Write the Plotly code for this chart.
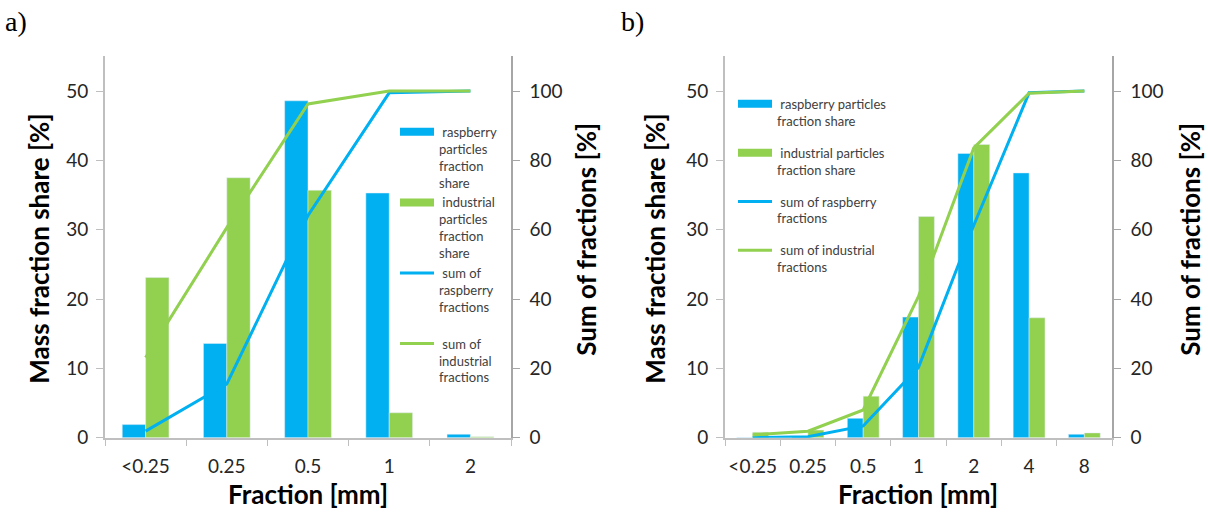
import plotly.graph_objects as go

# ---------------- data ----------------
cats_a = ["<0.25", "0.25", "0.5", "1", "2"]
rasp_share_a = [1.9, 13.6, 48.6, 35.3, 0.5]
ind_share_a = [23.1, 37.5, 35.7, 3.6, 0.15]
rasp_sum_a = [1.9, 15.5, 64.1, 99.5, 100]
ind_sum_a = [23.1, 60.6, 96.3, 100, 100]

cats_b = ["<0.25", "0.25", "0.5", "1", "2", "4", "8"]
rasp_share_b = [0.05, 0.1, 2.8, 17.4, 41.0, 38.2, 0.5]
ind_share_b = [0.8, 1.1, 6.0, 31.9, 42.3, 17.3, 0.7]
rasp_sum_b = [0.05, 0.3, 3.4, 20.3, 61.3, 99.5, 100]
ind_sum_b = [0.8, 1.9, 8.0, 40.8, 83.6, 99.4, 100]

y_ticks = [0, 10, 20, 30, 40, 50]
y2_ticks = [0, 20, 40, 60, 80, 100]

BLUE = "#00B0F0"
GREEN = "#92D050"
FONT = "Lato"
W, HF = 1208, 518
K = 0.98  # observed vertical compression of the capture


def py(y):
    """target top-based pixel -> paper fraction"""
    return (HF - y / K) / HF


fig = go.Figure()

# ---- chart a ----
fig.add_trace(go.Bar(x=cats_a, y=rasp_share_a, marker_color=BLUE, xaxis="x", yaxis="y",
                     showlegend=False, name="raspberry particles fraction share"))
fig.add_trace(go.Bar(x=cats_a, y=ind_share_a, marker_color=GREEN, xaxis="x", yaxis="y",
                     showlegend=False, name="industrial particles fraction share"))
fig.add_trace(go.Scatter(x=cats_a, y=rasp_sum_a, mode="lines", line=dict(color=BLUE, width=3),
                         xaxis="x", yaxis="y2", showlegend=False))
fig.add_trace(go.Scatter(x=cats_a, y=ind_sum_a, mode="lines", line=dict(color=GREEN, width=3),
                         xaxis="x", yaxis="y2", showlegend=False))
leg_a = [
    (" raspberry<br>particles<br>fraction<br>share", BLUE, 8),
    (" industrial<br>particles<br>fraction<br>share", GREEN, 8),
    (" sum of<br>raspberry<br>fractions<br> ", BLUE, 3),
    (" sum of<br>industrial<br>fractions", GREEN, 3),
]
for i, (nm, col, w) in enumerate(leg_a):
    fig.add_trace(go.Scatter(x=[None], y=[None], mode="lines", line=dict(color=col, width=w),
                             name=nm, xaxis="x", yaxis="y", legend="legend",
                             legendgroup="a%d" % i))

# ---- chart b ----
fig.add_trace(go.Bar(x=cats_b, y=rasp_share_b, marker_color=BLUE, xaxis="x2", yaxis="y3",
                     showlegend=False, name="raspberry particles fraction share"))
fig.add_trace(go.Bar(x=cats_b, y=ind_share_b, marker_color=GREEN, xaxis="x2", yaxis="y3",
                     showlegend=False, name="industrial particles fraction share"))
fig.add_trace(go.Scatter(x=cats_b, y=rasp_sum_b, mode="lines", line=dict(color=BLUE, width=3),
                         xaxis="x2", yaxis="y4", showlegend=False))
fig.add_trace(go.Scatter(x=cats_b, y=ind_sum_b, mode="lines", line=dict(color=GREEN, width=3),
                         xaxis="x2", yaxis="y4", showlegend=False))
leg_b = [
    (" raspberry particles<br>fraction share", BLUE, 8),
    (" industrial particles<br>fraction share", GREEN, 8),
    (" sum of raspberry<br>fractions", BLUE, 3),
    (" sum of industrial<br>fractions", GREEN, 3),
]
for i, (nm, col, w) in enumerate(leg_b):
    fig.add_trace(go.Scatter(x=[None], y=[None], mode="lines", line=dict(color=col, width=w),
                             name=nm, xaxis="x2", yaxis="y3", legend="legend2",
                             legendgroup="b%d" % i))

ydom = [py(438.3), py(56.5)]
xa_dom = [105 / W, 511 / W]
xb_dom = [725 / W, 1112 / W]

tickfont = dict(family=FONT, size=19, color="#262626")
axcol = "#bfbfbf"


def xaxis(dom, anchor):
    return dict(domain=dom, anchor=anchor, type="category", showline=True, linecolor=axcol,
                linewidth=1.5, ticks="outside", tickson="boundaries", ticklen=7, tickcolor=axcol,
                showgrid=False, zeroline=False, tickfont=tickfont, ticklabelstandoff=11,
                tickangle=0, fixedrange=True)


def yleft(anchor):
    return dict(domain=ydom, anchor=anchor, range=[0, 55], tickvals=y_ticks, showline=True,
                linecolor=axcol, linewidth=2, ticks="outside", ticklen=7, tickcolor=axcol,
                showgrid=False, zeroline=False, tickfont=tickfont, ticklabelstandoff=4)


def yright(anchor, overlay):
    return dict(domain=ydom, anchor=anchor, overlaying=overlay, side="right", range=[0, 110],
                tickvals=y2_ticks, showline=True, linecolor="#a6a6a6", linewidth=1.5,
                ticks="outside", ticklen=7, tickcolor="#a6a6a6", showgrid=False, zeroline=False,
                tickfont=tickfont, ticklabelstandoff=6)


legfont = dict(family=FONT, size=13, color="#404040")

fig.update_layout(
    width=W, height=HF, autosize=False,
    margin=dict(l=0, r=0, t=0, b=0, pad=0),
    paper_bgcolor="white", plot_bgcolor="white",
    barmode="group", bargap=0.425, bargroupgap=0,
    xaxis=xaxis(xa_dom, "y"),
    yaxis=yleft("x"),
    yaxis2=yright("x", "y"),
    xaxis2=xaxis(xb_dom, "y3"),
    yaxis3=yleft("x2"),
    yaxis4=yright("x2", "y3"),
    legend=dict(x=395 / W, y=py(117), xanchor="left", yanchor="top",
                bgcolor="rgba(0,0,0,0)", font=legfont, itemwidth=34, valign="top",
                tracegroupgap=0, itemclick=False, itemdoubleclick=False),
    legend2=dict(x=733 / W, y=py(89), xanchor="left", yanchor="top",
                 bgcolor="rgba(0,0,0,0)", font=legfont, itemwidth=34, valign="top",
                 tracegroupgap=12, itemclick=False, itemdoubleclick=False),
    showlegend=True,
)

titlefont = dict(family=FONT, size=26, color="black")
ann = [
    dict(text="<b>Mass fraction share [%]</b>", x=39 / W, y=py(249), textangle=-90),
    dict(text="<b>Sum of fractions [%]</b>", x=586 / W, y=py(240), textangle=-90),
    dict(text="<b>Fraction [mm]</b>", x=308 / W, y=py(495), textangle=0),
    dict(text="<b>Mass fraction share [%]</b>", x=655 / W, y=py(249), textangle=-90),
    dict(text="<b>Sum of fractions [%]</b>", x=1190 / W, y=py(240), textangle=-90),
    dict(text="<b>Fraction [mm]</b>", x=918 / W, y=py(495), textangle=0),
]
for a in ann:
    fig.add_annotation(xref="paper", yref="paper", showarrow=False, xanchor="center",
                       yanchor="middle", font=titlefont, **a)

panel_font = dict(family="Liberation Serif", size=28, color="black")
fig.add_annotation(text="a)", xref="paper", yref="paper", x=3 / W, y=py(22),
                   xanchor="left", yanchor="middle", showarrow=False, font=panel_font)
fig.add_annotation(text="b)", xref="paper", yref="paper", x=619 / W, y=py(22),
                   xanchor="left", yanchor="middle", showarrow=False, font=panel_font)

fig.write_html("out.html", config={"displayModeBar": False})
